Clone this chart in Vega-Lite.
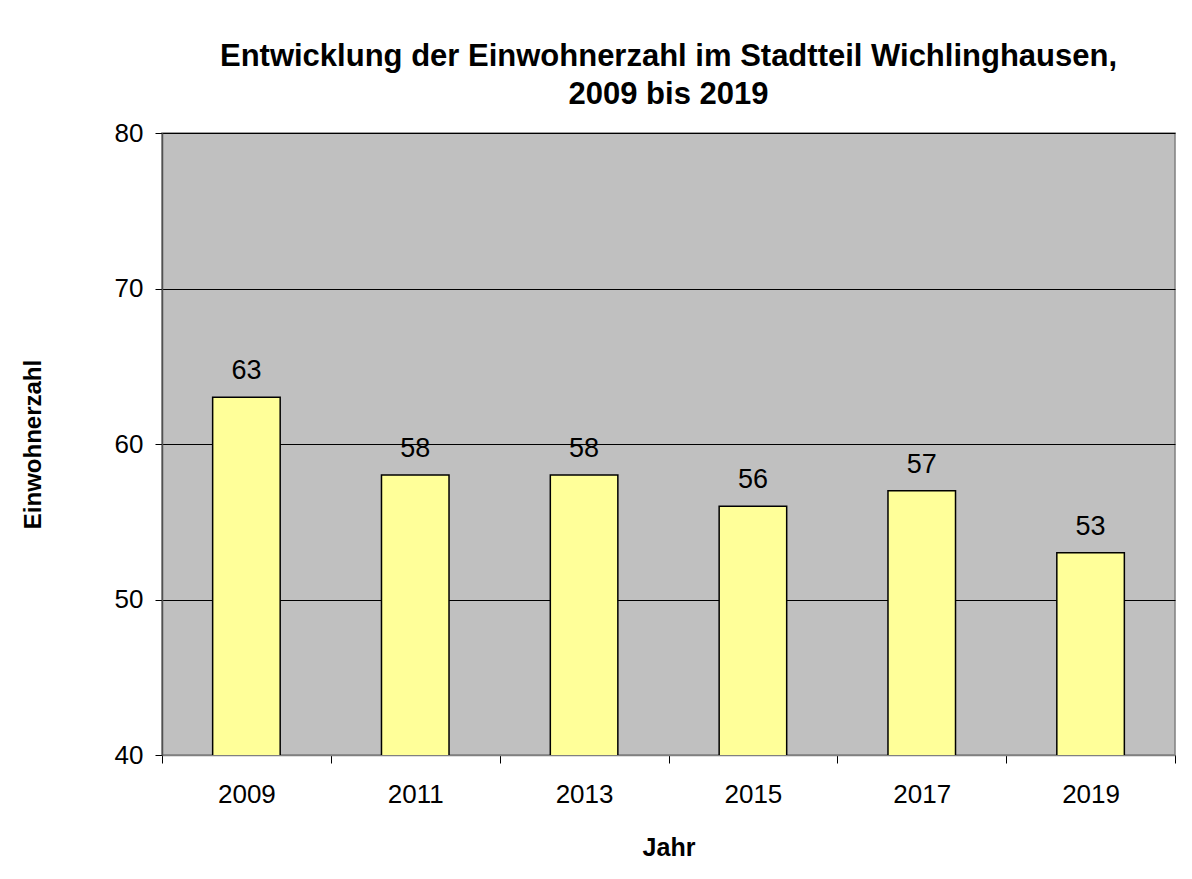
{
  "$schema": "https://vega.github.io/schema/vega-lite/v6.json",
  "width": 1013,
  "height": 622,
  "autosize": {"type": "none"},
  "padding": {"left": 162, "top": 133, "right": 17, "bottom": 124},
  "background": "white",
  "title": {
    "text": ["Entwicklung der Einwohnerzahl im Stadtteil Wichlinghausen,", "2009 bis 2019"],
    "font": "Liberation Sans",
    "fontSize": 31,
    "fontWeight": "bold",
    "color": "black",
    "anchor": "middle",
    "frame": "group",
    "lineHeight": 38,
    "offset": 9
  },
  "config": {
    "view": {"fill": "#C0C0C0", "stroke": "#808080", "strokeWidth": 1.5},
    "font": "Liberation Sans"
  },
  "data": {
    "values": [
      {"Jahr": "2009", "Einwohnerzahl": 63},
      {"Jahr": "2011", "Einwohnerzahl": 58},
      {"Jahr": "2013", "Einwohnerzahl": 58},
      {"Jahr": "2015", "Einwohnerzahl": 56},
      {"Jahr": "2017", "Einwohnerzahl": 57},
      {"Jahr": "2019", "Einwohnerzahl": 53}
    ]
  },
  "encoding": {
    "x": {
      "field": "Jahr",
      "type": "ordinal",
      "scale": {"paddingInner": 0, "paddingOuter": 0},
      "axis": {
        "title": "Jahr",
        "labelAngle": 0,
        "labelFont": "Liberation Sans",
        "labelFontSize": 26,
        "labelColor": "black",
        "labelPadding": 18,
        "tickBand": "extent",
        "tickSize": 8,
        "tickColor": "black",
        "tickWidth": 1,
        "domainColor": "#808080",
        "domainWidth": 1.5,
        "titleFont": "Liberation Sans",
        "titleFontSize": 25,
        "titleFontWeight": "bold",
        "titleColor": "black",
        "titleY": 100,
        "titleBaseline": "alphabetic"
      }
    },
    "y": {
      "field": "Einwohnerzahl",
      "type": "quantitative",
      "scale": {"domain": [40, 80], "nice": false, "zero": false},
      "axis": {
        "title": "Einwohnerzahl",
        "values": [40, 50, 60, 70, 80],
        "labelFont": "Liberation Sans",
        "labelFontSize": 26,
        "labelColor": "black",
        "labelPadding": 12,
        "tickSize": 7,
        "tickColor": "black",
        "tickWidth": 1,
        "domainColor": "#505050",
        "domainWidth": 1.5,
        "grid": true,
        "gridColor": "black",
        "gridWidth": 1,
        "titleFont": "Liberation Sans",
        "titleFontSize": 24,
        "titleFontWeight": "bold",
        "titleColor": "black",
        "titleX": -122,
        "titleY": 311,
        "titleAngle": -90,
        "titleAlign": "center",
        "titleBaseline": "alphabetic"
      }
    }
  },
  "layer": [
    {
      "mark": {"type": "bar", "width": {"band": 0.4}, "fill": "#FFFF99", "stroke": "black", "strokeWidth": 1.5, "clip": true}
    },
    {
      "mark": {"type": "text", "baseline": "bottom", "dy": -12, "font": "Liberation Sans", "fontSize": 27, "color": "black"},
      "encoding": {"text": {"field": "Einwohnerzahl", "type": "quantitative"}}
    }
  ]
}
